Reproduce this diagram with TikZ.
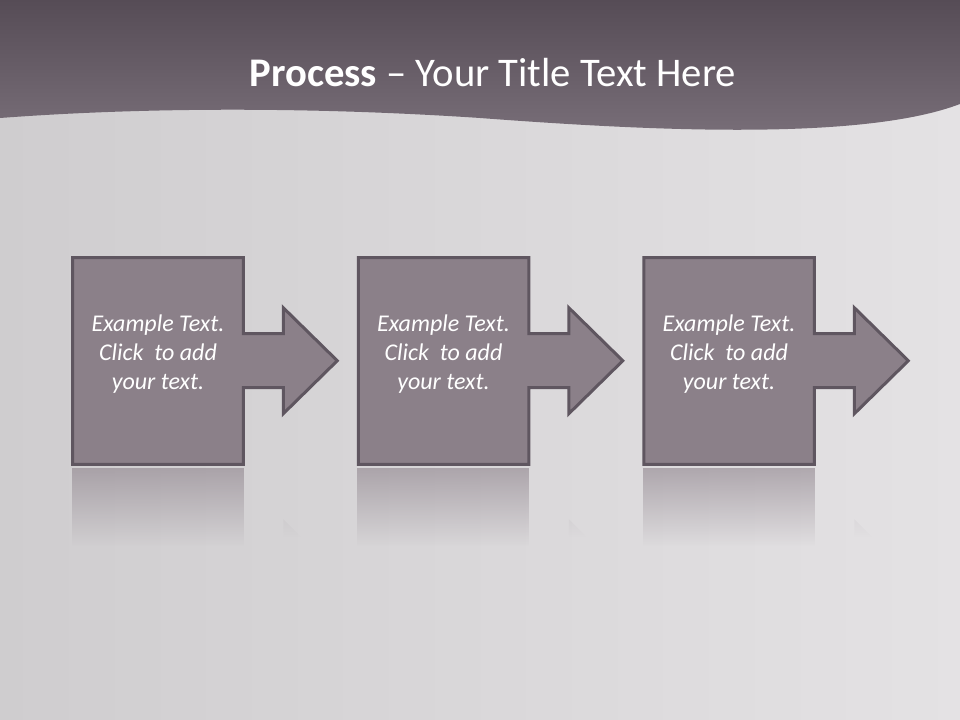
\documentclass[tikz,border=0pt]{standalone}
\usepackage{fontspec}
\setmainfont{Carlito}
\usepackage{tikz}
\usetikzlibrary{positioning,fadings}

\definecolor{bandtop}{HTML}{564C56}
\definecolor{bandbot}{HTML}{7A707A}
\definecolor{bgleft}{HTML}{CFCDCF}
\definecolor{bgright}{HTML}{E4E2E4}
\definecolor{boxfill}{HTML}{8B8089}
\definecolor{boxline}{HTML}{5F5660}

\tikzset{
  procbox/.style={minimum width=127.5pt,minimum height=154.5pt,inner sep=0pt},
  procshape/.style={fill=boxfill,draw=boxline,line width=2.25pt,line join=miter},
  proctext/.style={align=center,text=white,font=\fontsize{18}{21.75}\selectfont\itshape},
  reflection/.style={fill=boxfill,path fading=south,fill opacity=0.6}
}
\newcommand{\steptext}{Example Text.\\Click\ \ to add\\your text.}

\begin{document}
\begin{tikzpicture}[x=0.75pt,y=-0.75pt]
      \useasboundingbox (0,0) rectangle (960,720);
      % background and title band
      \shade[left color=bgleft,right color=bgright] (0,0) rectangle (960,720);
      \shade[top color=bandtop,bottom color=bandbot] (0,0) -- (960,0) -- (960,104)
        .. controls (860,142) and (640,130) .. (480,118)
        .. controls (330,108) and (160,106) .. (0,118) -- cycle;
      \node [anchor=base,text=white,font=\fontsize{30.5}{36}\selectfont] (title) at (493,87)
        {\textbf{Process} – Your Title Text Here};

      % the three steps
      \node [procbox] (box1) at (158,361) {};
      \node [procbox,right=86.25pt of box1] (box2) {};
      \node [procbox,right=86.25pt of box2] (box3) {};

      \draw [procshape] (box1.north west) -- (box1.north east) -- ++(0,76) -- ++(40,0)
        -- ++(0,-26) -- ++(54,53) -- ++(-54,53) -- ++(0,-26) -- ++(-40,0)
        |- (box1.south west) -- cycle;
      \draw [procshape] (box2.north west) -- (box2.north east) -- ++(0,76) -- ++(40,0)
        -- ++(0,-26) -- ++(54,53) -- ++(-54,53) -- ++(0,-26) -- ++(-40,0)
        |- (box2.south west) -- cycle;
      \draw [procshape] (box3.north west) -- (box3.north east) -- ++(0,76) -- ++(40,0)
        -- ++(0,-26) -- ++(54,53) -- ++(-54,53) -- ++(0,-26) -- ++(-40,0)
        |- (box3.south west) -- cycle;

      % reflections
      \fill [reflection] (box1.south west) ++(-1,4) rectangle ++(172,78);
      \fill [reflection] (box2.south west) ++(-1,4) rectangle ++(172,78);
      \fill [reflection] (box3.south west) ++(-1,4) rectangle ++(172,78);
      \fill [reflection,fill opacity=0.3] (box1.south east) ++(40,55) -- ++(18,18) -- ++(-18,0) -- cycle;
      \fill [reflection,fill opacity=0.3] (box2.south east) ++(40,55) -- ++(18,18) -- ++(-18,0) -- cycle;
      \fill [reflection,fill opacity=0.3] (box3.south east) ++(40,55) -- ++(18,18) -- ++(-18,0) -- cycle;

      % texts
      \node [proctext] (text1) at ([yshift=5.25pt]box1.center) {\steptext};
      \node [proctext] (text2) at ([yshift=5.25pt]box2.center) {\steptext};
      \node [proctext] (text3) at ([yshift=5.25pt]box3.center) {\steptext};
    \end{tikzpicture}
\end{document}
